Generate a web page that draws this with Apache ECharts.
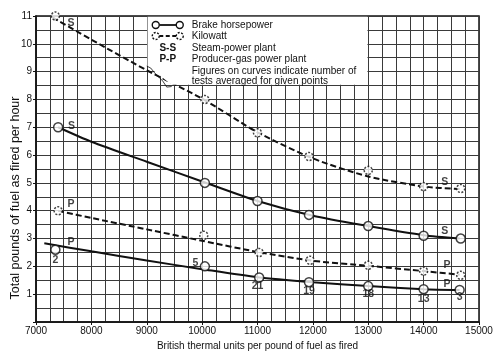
<!DOCTYPE html>
<html><head><meta charset="utf-8">
<script src="https://cdn.jsdelivr.net/npm/echarts@6/dist/echarts.min.js"></script>
<style>html,body{margin:0;padding:0;background:#fff}#c{width:500px;height:358px}</style>
</head><body><div id="c"></div>
<script>
// Axis ranges / ticks
const xMin = 7000, xMax = 15000, xStep = 1000, xMinorSplit = 4;
const yMin = 0, yMax = 11, yStep = 1, yMinorSplit = 2;
const xTitle = 'British thermal units per pound of fuel as fired';
const yTitle = 'Total pounds of fuel as fired per hour';

// Fitted curves
const steamBhpCurveX = [7400, 8000, 9000, 10000, 11000, 12000, 13000, 14000, 14650];
const steamBhpCurveY = [7.0, 6.48, 5.76, 5.05, 4.35, 3.82, 3.45, 3.12, 3.0];
const steamKwCurveX = [7300, 8000, 9000, 10000, 11000, 12000, 13000, 14000, 14650];
const steamKwCurveY = [10.95, 10.15, 9.05, 8.03, 6.82, 5.88, 5.23, 4.87, 4.78];
const prodKwCurveX = [7400, 8000, 9000, 10000, 11000, 12000, 13000, 14000, 14650];
const prodKwCurveY = [4.0, 3.74, 3.33, 2.92, 2.52, 2.2, 2.02, 1.83, 1.7];
const prodBhpCurveX = [7150, 8000, 9000, 10000, 11000, 12000, 13000, 14000, 14650];
const prodBhpCurveY = [2.83, 2.54, 2.21, 1.9, 1.61, 1.43, 1.29, 1.18, 1.15];

// Observed points
const steamBhpPtsX = [7400, 10050, 11000, 11930, 13000, 14000, 14670];
const steamBhpPtsY = [7.0, 5.0, 4.35, 3.85, 3.45, 3.1, 3.0];
const steamKwPtsX = [7350, 10050, 11000, 11930, 13000, 14000, 14670];
const steamKwPtsY = [11.0, 8.0, 6.8, 5.95, 5.45, 4.87, 4.8];
const prodKwPtsX = [7400, 10030, 11030, 11950, 13000, 14000, 14670];
const prodKwPtsY = [4.0, 3.12, 2.5, 2.22, 2.04, 1.83, 1.68];
const prodBhpPtsX = [7350, 10050, 11030, 11930, 13000, 14000, 14650];
const prodBhpPtsY = [2.6, 2.0, 1.6, 1.43, 1.29, 1.18, 1.15];

// Curve annotations (letters and number of tests)
const annotText = ['S', 'S', 'S', 'S', 'P', 'P', 'P', 'P', '2', '5', '21', '19', '18', '13', '3'];
const annotX = [7630, 14380, 7640, 14380, 7630, 14420, 7630, 14420, 7350, 9880, 11000, 11930, 13000, 14000, 14650];
const annotY = [10.75, 5.02, 7.04, 3.27, 4.23, 2.05, 2.87, 1.36, 2.24, 2.11, 1.28, 1.1, 1.0, 0.83, 0.9];

// Legend entries
const legendRows = ['Brake horsepower', 'Kilowatt', 'Steam-power plant', 'Producer-gas power plant',
  'Figures on curves indicate number of', 'tests averaged for given points'];
const legendKeys = ['', '', 'S-S', 'P-P', '', ''];

const zip = (xs, ys) => xs.map((x, i) => [x, ys[i]]);
const FONT = '"Liberation Sans", Arial, sans-serif';
const INK = '#111';

const chart = echarts.init(document.getElementById('c'), null, {renderer: 'canvas'});

const lineSeries = (data, dashed) => ({
  type: 'line', data, smooth: 0.25, showSymbol: false, silent: true,
  lineStyle: {color: INK, width: 2, type: dashed ? [6, 3] : 'solid'}, z: 3
});
const ptSeries = (data, dashed, size) => ({
  type: 'scatter', data, symbol: 'circle', symbolSize: size, silent: true, clip: true,
  itemStyle: {color: '#fff', borderColor: INK, borderWidth: 1.5, borderType: dashed ? [2, 1.5] : 'solid'}, z: 4
});

const splitStyle = {lineStyle: {color: '#3a3a3a', width: 1}};

chart.setOption({
  animation: false,
  backgroundColor: '#fff',
  grid: {left: 36, right: 21, top: 16, bottom: 36, show: true, borderColor: INK, borderWidth: 1.5},
  xAxis: {
    type: 'value', min: xMin, max: xMax, interval: xStep,
    axisLine: {show: true, lineStyle: {color: INK, width: 1.5}},
    axisTick: {show: true, length: 3, inside: false, lineStyle: {color: INK}},
    minorTick: {show: false, splitNumber: xMinorSplit},
    splitLine: {show: true, ...splitStyle},
    minorSplitLine: {show: true, ...splitStyle},
    axisLabel: {color: INK, fontFamily: FONT, fontSize: 10, margin: 4, formatter: v => String(v)},
    name: xTitle, nameLocation: 'middle', nameGap: 16,
    nameTextStyle: {color: INK, fontFamily: FONT, fontSize: 10}
  },
  yAxis: {
    type: 'value', min: yMin, max: yMax, interval: yStep,
    axisLine: {show: true, lineStyle: {color: INK, width: 1.5}},
    axisTick: {show: true, length: 3, lineStyle: {color: INK}},
    minorTick: {show: false, splitNumber: yMinorSplit},
    splitLine: {show: true, ...splitStyle},
    minorSplitLine: {show: true, ...splitStyle},
    axisLabel: {color: INK, fontFamily: FONT, fontSize: 10, margin: 4,
      formatter: v => v === 0 ? '' : String(v)}
  },
  series: [
    lineSeries(zip(steamBhpCurveX, steamBhpCurveY), false),
    lineSeries(zip(steamKwCurveX, steamKwCurveY), true),
    lineSeries(zip(prodKwCurveX, prodKwCurveY), true),
    lineSeries(zip(prodBhpCurveX, prodBhpCurveY), false),
    ptSeries(zip(steamBhpPtsX, steamBhpPtsY), false, 9),
    ptSeries(zip(steamKwPtsX, steamKwPtsY), true, 8),
    ptSeries(zip(prodKwPtsX, prodKwPtsY), true, 8),
    ptSeries(zip(prodBhpPtsX, prodBhpPtsY), false, 9),
    {
      type: 'scatter', symbol: 'circle', symbolSize: 1, silent: true, z: 5,
      itemStyle: {color: 'rgba(0,0,0,0)'},
      data: annotX.map((x, i) => ({value: [x, annotY[i]], name: annotText[i]})),
      label: {show: true, position: 'inside', formatter: p => p.name,
        color: INK, fontFamily: FONT, fontSize: 10.5, fontWeight: 'bold'}
    }
  ]
});

// Legend box drawn on top of the grid, cut around the kilowatt curve
const P = (x, y) => chart.convertToPixel({gridIndex: 0}, [x, y]);
const tl = P(9000, 11), tr = P(13000, 11), br = P(13000, 8.5);
const cutB = P(9450, 8.5), cutL = P(9000, 9.2);
const bx = tl[0], by = tl[1];
const g = [];
g.push({type: 'polygon', z: 10, silent: true,
  shape: {points: [[bx + 0.8, by + 0.8], [tr[0] - 0.8, by + 0.8], [br[0] - 0.8, br[1] - 0.8], [cutB[0], br[1] - 0.8], [bx + 0.8, cutL[1]]]},
  style: {fill: '#fff'}});
g.push({type: 'polyline', z: 11, silent: true,
  shape: {points: [[bx, cutL[1]], [bx + 4, cutL[1] + 2], [bx + 8, cutL[1] + 7], [bx + 12, cutL[1] + 11], [bx + 16, cutL[1] + 15], [bx + 20, cutL[1] + 21], [cutB[0], br[1] + 1]]},
  style: {stroke: INK, lineWidth: 0.8, fill: null}});
const rowY = [25, 36, 48, 59, 71, 81];
const textX = bx + 45;
const symL = bx + 9, symR = bx + 33;
legendRows.forEach((t, i) => {
  g.push({type: 'text', z: 12, silent: true, style: {text: t, x: textX, y: rowY[i], fill: INK,
    font: '10px ' + FONT, verticalAlign: 'middle'}});
  if (legendKeys[i]) {
    g.push({type: 'text', z: 12, silent: true, style: {text: legendKeys[i], x: (symL + symR) / 2, y: rowY[i], fill: INK,
      font: 'bold 10px ' + FONT, align: 'center', verticalAlign: 'middle'}});
  }
});
[0, 1].forEach(i => {
  const dashed = i === 1;
  g.push({type: 'line', z: 12, silent: true, shape: {x1: symL + 3.5, y1: rowY[i], x2: symR - 3.5, y2: rowY[i]},
    style: {stroke: INK, lineWidth: 1.8, lineDash: dashed ? [4, 2.5] : null}});
  [symL, symR].forEach(cx => g.push({type: 'circle', z: 12, silent: true, shape: {cx, cy: rowY[i], r: 3.5},
    style: {fill: '#fff', stroke: INK, lineWidth: 1.4, lineDash: dashed ? [2, 1.5] : null}}));
});
g.push({type: 'text', z: 12, silent: true, rotation: Math.PI / 2, x: 16, y: 198,
  style: {text: yTitle, fill: INK, font: '12.5px ' + FONT, align: 'center', verticalAlign: 'middle'}});
chart.setOption({graphic: g});
</script>
</body></html>
